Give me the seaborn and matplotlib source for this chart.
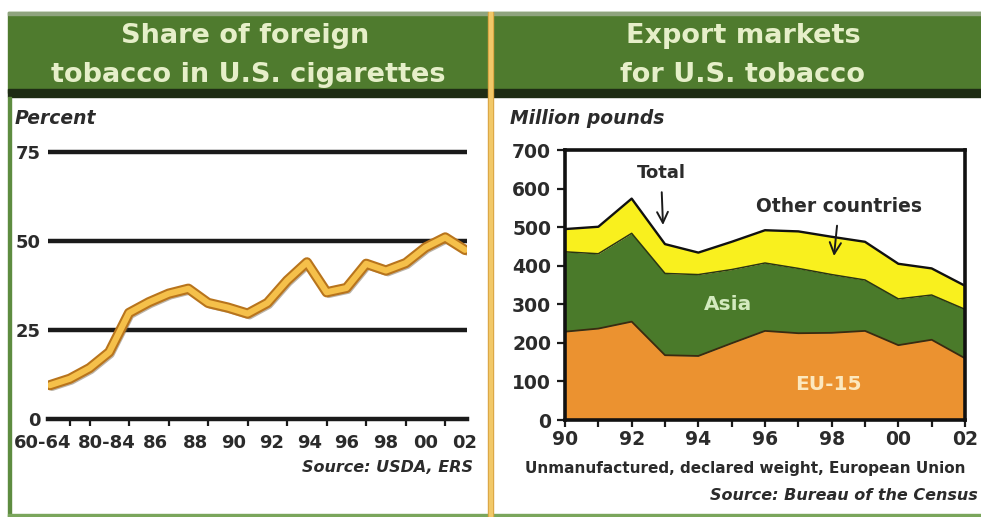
import numpy as np
import pandas as pd
import matplotlib
matplotlib.use("Agg")
import matplotlib.pyplot as plt
import matplotlib.patheffects as pe
import matplotlib.transforms as mtransforms
from matplotlib.patches import Rectangle
import seaborn as sns

# ---------------- data ----------------
share_periods = ["60-64", "65-69", "70-74", "80-84", "85", "86", "87", "88", "89", "90",
                 "91", "92", "93", "94", "95", "96", "97", "98", "99", "00", "01", "02"]
share_pct = [9.5, 11.3, 14.3, 18.8, 29.8, 32.8, 35.2, 36.6, 32.6, 31.3,
             29.6, 32.6, 38.9, 44.0, 35.6, 36.8, 43.6, 41.7, 43.8, 48.2, 51.0, 47.5]
share_tick_labels = ["60-64", "80-84", "86", "88", "90", "92", "94", "96", "98", "00", "02"]
share_yticks = [0, 25, 50, 75]

export_years = [1990, 1991, 1992, 1993, 1994, 1995, 1996, 1997, 1998, 1999, 2000, 2001, 2002]
eu15 = [229, 237, 255, 168, 166, 199, 231, 225, 226, 231, 194, 208, 160]
asia = [207, 194, 229, 212, 211, 191, 176, 168, 151, 132, 120, 116, 127]
other = [59, 70, 90, 76, 57, 72, 85, 96, 98, 99, 91, 69, 61]
export_tick_labels = ["90", "92", "94", "96", "98", "00", "02"]
export_yticks = [0, 100, 200, 300, 400, 500, 600, 700]

# ---------------- setup ----------------
sns.set_theme(style="white")
plt.rcParams["font.family"] = ["DejaVu Sans"]
W, H = 981, 517
fig = plt.figure(figsize=(W / 100, H / 100), dpi=100)
fig.patch.set_facecolor("white")


def rect(x0, y0, x1, y1):
    return [x0 / W, 1 - y1 / H, (x1 - x0) / W, (y1 - y0) / H]


def fx(x):
    return x / W


def fy(y):
    return 1 - y / H


TXT = "#2b2b2b"
GREEN_HDR = "#4F7B2E"

# ---------------- frame decoration ----------------
for x0, x1 in [(8, 488), (493, 981)]:
    fig.patches.append(Rectangle((fx(x0), fy(93)), (x1 - x0) / W, 81 / H,
                                 transform=fig.transFigure, color=GREEN_HDR, zorder=0))
    fig.patches.append(Rectangle((fx(x0), fy(15)), (x1 - x0) / W, 3 / H,
                                 transform=fig.transFigure, color="#8FA47E", zorder=1))
    fig.patches.append(Rectangle((fx(x0), fy(97)), (x1 - x0) / W, 8 / H,
                                 transform=fig.transFigure, color="#1E2C14", zorder=1))
# left and bottom green border
fig.patches.append(Rectangle((fx(8), fy(517)), 3 / W, 420 / H,
                             transform=fig.transFigure, color="#5E8C40", zorder=1))
fig.patches.append(Rectangle((fx(8), fy(517)), (W - 8) / W, 3 / H,
                             transform=fig.transFigure, color="#7AA65C", zorder=1))
# gold divider
fig.patches.append(Rectangle((fx(487.5), fy(517)), 5.5 / W, 505 / H,
                             transform=fig.transFigure, color="#D7A13E", zorder=2))
fig.patches.append(Rectangle((fx(489), fy(517)), 2.5 / W, 505 / H,
                             transform=fig.transFigure, color="#F1C868", zorder=2))

# header titles
hdr_kw = dict(ha="center", va="baseline", fontsize=19.5, fontweight="bold",
              color="#E6EFC9", zorder=5)
fig.text(fx(245), fy(43), "Share of foreign", **hdr_kw)
fig.text(fx(248), fy(82), "tobacco in U.S. cigarettes", **hdr_kw)
fig.text(fx(743), fy(43), "Export markets", **hdr_kw)
fig.text(fx(743), fy(82), "for U.S. tobacco", **hdr_kw)

# ---------------- left chart ----------------
axL = fig.add_axes(rect(48, 135, 467, 425))
axL.set_facecolor("none")
xpx = 19.76
ypx = (419 - 152) / 75
axL.set_xlim(-2 / xpx, len(share_periods) - 1 + 2 / xpx)
axL.set_ylim(-(425 - 419) / ypx, 75 + (152 - 135) / ypx)

for s in ["top", "right", "left"]:
    axL.spines[s].set_visible(False)
axL.spines["bottom"].set_position(("data", 0))
axL.spines["bottom"].set_color("#1a1a1a")
axL.spines["bottom"].set_linewidth(3.2)

for v in share_yticks[1:]:
    axL.axhline(v, color="#1a1a1a", lw=3.2, zorder=1)

idx = np.arange(len(share_periods))
dfL = pd.DataFrame({"idx": idx, "pct": share_pct})
sns.lineplot(data=dfL, x="idx", y="pct", ax=axL, color="#F5C04A", lw=4.4,
             solid_capstyle="round", solid_joinstyle="round", zorder=4)
axL.lines[-1].set_path_effects([
    pe.SimpleLineShadow(offset=(1.5, -2), shadow_color="#6b5a40", alpha=0.45),
    pe.Stroke(linewidth=7.4, foreground="#B8741C"),
    pe.Normal(),
])

tick_pos = [share_periods.index(l) for l in share_tick_labels]
axL.set_xticks(tick_pos)
axL.set_xticklabels(share_tick_labels)
axL.set_xticks(idx[1:], minor=True)
axL.tick_params(axis="x", which="major", length=0, pad=11, labelsize=13,
                labelcolor=TXT)
axL.tick_params(axis="x", which="minor", length=5, width=1.6, color="#1a1a1a",
                direction="out", bottom=True)
label_shift_pt = {"60-64": -5, "80-84": -2, "86": 5, "88": 5, "90": 4, "92": 3, "94": 2}
for t in axL.get_xticklabels():
    t.set_fontweight("bold")
    dx = label_shift_pt.get(t.get_text(), 0)
    if dx:
        t.set_transform(t.get_transform() +
                        mtransforms.ScaledTranslation(dx / 72, 0, fig.dpi_scale_trans))
axL.set_yticks(share_yticks)
axL.set_yticklabels([str(v) for v in share_yticks])
axL.tick_params(axis="y", length=0, pad=5, labelsize=13, labelcolor=TXT)
for t in axL.get_yticklabels():
    t.set_fontweight("bold")
axL.set_xlabel("")
axL.set_ylabel("")

fig.text(fx(15), fy(118), "Percent", ha="left", va="center", fontsize=13.5,
         fontweight="bold", fontstyle="italic", color=TXT)
fig.text(fx(473), fy(468), "Source: USDA, ERS", ha="right", va="center",
         fontsize=11.5, fontweight="bold", fontstyle="italic", color=TXT)

# ---------------- right chart ----------------
axR = fig.add_axes(rect(565, 150, 965, 420))
axR.set_facecolor("white")
axR.set_xlim(1990, 2002)
axR.set_ylim(0, 700)

eu_top = np.array(eu15)
asia_top = eu_top + np.array(asia)
total = asia_top + np.array(other)
axR.fill_between(export_years, 0, eu_top, color="#EB9230", lw=0, zorder=1)
axR.fill_between(export_years, eu_top, asia_top, color="#4A7A2A", lw=0, zorder=1)
axR.fill_between(export_years, asia_top, total, color="#F9F01E", lw=0, zorder=1)

dfR = pd.DataFrame({"year": export_years, "eu": eu_top, "asia": asia_top, "total": total})
sns.lineplot(data=dfR, x="year", y="eu", ax=axR, color="#3A2A10", lw=1.3, zorder=2)
sns.lineplot(data=dfR, x="year", y="asia", ax=axR, color="#2A3512", lw=1.1, zorder=2)
sns.lineplot(data=dfR, x="year", y="total", ax=axR, color="#111111", lw=1.7, zorder=3)

for s in axR.spines.values():
    s.set_visible(True)
    s.set_color("#111111")
    s.set_linewidth(2.6)
    s.set_zorder(5)

axR.set_xticks(export_years[::2])
axR.set_xticklabels(export_tick_labels)
axR.set_xticks(export_years, minor=True)
axR.tick_params(axis="x", which="both", length=5, width=1.6, color="#1a1a1a",
                direction="out", bottom=True, pad=2, labelsize=13.5, labelcolor=TXT)
for t in axR.get_xticklabels():
    t.set_fontweight("bold")
axR.set_yticks(export_yticks)
axR.set_yticklabels([str(v) for v in export_yticks])
axR.tick_params(axis="y", length=6, width=1.6, color="#1a1a1a", direction="out",
                left=True, pad=4, labelsize=13.5, labelcolor=TXT)
for t in axR.get_yticklabels():
    t.set_fontweight("bold")
axR.set_xlabel("")
axR.set_ylabel("")

# annotations
axR.annotate("Total", xy=(fx(663), fy(225)), xycoords="figure fraction",
             xytext=(fx(661), fy(173)), textcoords="figure fraction",
             ha="center", va="center", fontsize=13, fontweight="bold", color=TXT,
             arrowprops=dict(arrowstyle="->,head_length=0.6,head_width=0.3",
                             color="#1a1a1a", lw=1.4, shrinkA=5, shrinkB=0),
             zorder=6)
axR.annotate("Other countries", xy=(fx(834), fy(256)), xycoords="figure fraction",
             xytext=(fx(839), fy(206)), textcoords="figure fraction",
             ha="center", va="center", fontsize=13.5, fontweight="bold", color=TXT,
             arrowprops=dict(arrowstyle="->,head_length=0.6,head_width=0.3",
                             color="#1a1a1a", lw=1.4, shrinkA=5, shrinkB=0),
             zorder=6)
fig.text(fx(728), fy(305), "Asia", ha="center", va="center", fontsize=14.5,
         fontweight="bold", color="#D3EABF", zorder=6)
fig.text(fx(828), fy(384), "EU-15", ha="center", va="center", fontsize=14.5,
         fontweight="bold", color="#FCE8BE", zorder=6)

fig.text(fx(745), fy(468), "Unmanufactured, declared weight, European Union",
         ha="center", va="center", fontsize=11, fontweight="bold", color=TXT)
fig.text(fx(978), fy(495), "Source: Bureau of the Census", ha="right", va="center",
         fontsize=11.5, fontweight="bold", fontstyle="italic", color=TXT)
fig.text(fx(510), fy(118), "Million pounds", ha="left", va="center", fontsize=13.5,
         fontweight="bold", fontstyle="italic", color=TXT)

fig.savefig("out.png", dpi=100)
